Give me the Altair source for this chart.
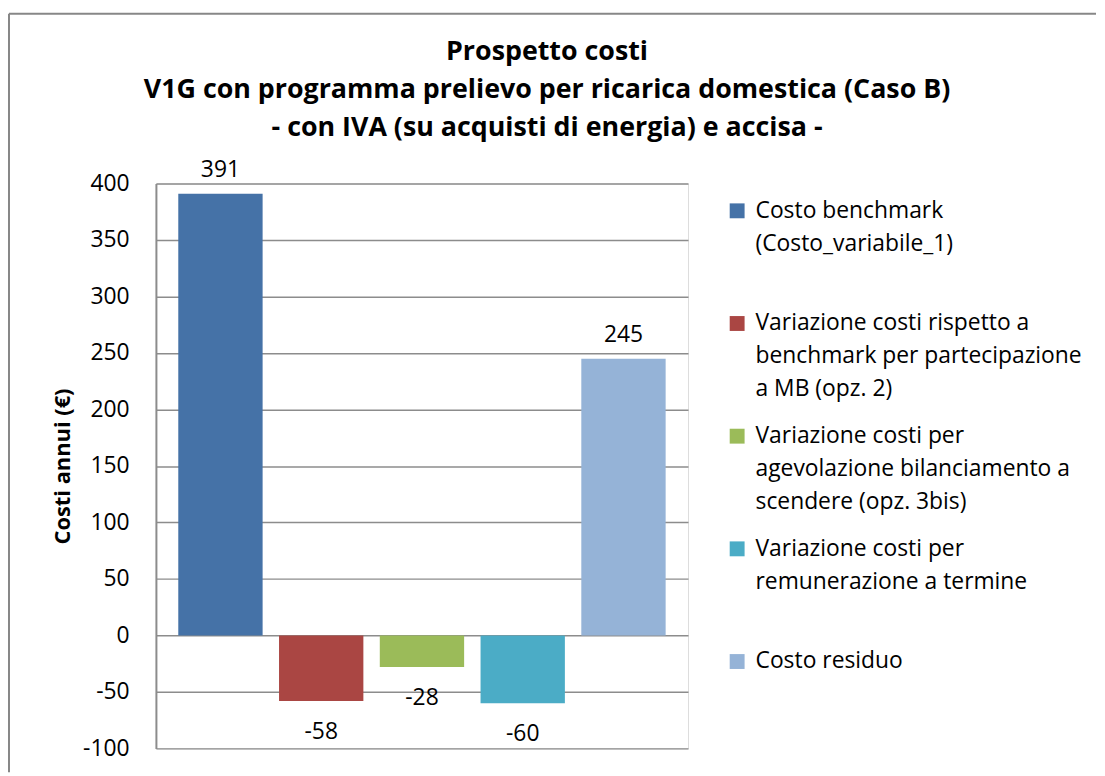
import altair as alt
import pandas as pd

# ---- data ----
series = [
    "Costo benchmark|(Costo_variabile_1)",
    "Variazione costi rispetto a|benchmark per partecipazione|a MB (opz. 2)",
    "Variazione costi per|agevolazione bilanciamento a|scendere (opz. 3bis)",
    "Variazione costi per|remunerazione a termine",
    "Costo residuo",
]
values = [391, -58, -28, -60, 245]
colors = ["#4572A7", "#AA4643", "#9BBB59", "#4BACC6", "#95B3D7"]
y_ticks = [-100, -50, 0, 50, 100, 150, 200, 250, 300, 350, 400]
title_lines = [
    "Prospetto costi",
    "V1G con programma prelievo per ricarica domestica (Caso B)",
    "- con IVA (su acquisti di energia) e accisa -",
]
y_title = "Costi annui (€)"

FONT = "Open Sans"
GRID = "#8c8c8c"
LBL = 23

df = pd.DataFrame({"serie": series, "valore": values})

x_enc = alt.X(
    "serie:N",
    sort=series,
    axis=None,
    scale=alt.Scale(paddingInner=0.163, paddingOuter=0.222),
)
y_scale = alt.Scale(domain=[-100, 400], nice=False)
y_axis = alt.Axis(
    values=y_ticks,
    labelExpr="toString(datum.value)",
    title=y_title,
    titleFont=FONT,
    titleFontSize=22,
    titleFontWeight="bold",
    titleColor="black",
    titlePadding=8,
    labelFont=FONT,
    labelFontSize=LBL,
    labelColor="black",
    labelPadding=27,
    ticks=False,
    tickSize=0,
    grid=True,
    gridColor=GRID,
    gridWidth=1.5,
    domainColor=GRID,
    domainWidth=2,
)

base = alt.Chart(df).transform_calculate(lbl="toString(datum.valore)")

bars = base.mark_bar().encode(
    x=x_enc,
    y=alt.Y("valore:Q", scale=y_scale, axis=y_axis),
    color=alt.Color(
        "serie:N",
        sort=series,
        scale=alt.Scale(domain=series, range=colors),
        legend=alt.Legend(
            title=None,
            orient="none",
            legendX=574,
            legendY=16,
            labelExpr="split(datum.label, '|')",
            labelFont=FONT,
            labelFontSize=LBL,
            labelColor="black",
            labelLimit=500,
            labelOffset=7,
            labelBaseline="middle",
            symbolType="square",
            symbolSize=225,
            symbolStrokeWidth=0,
            symbolOpacity=1,
            rowPadding=23.5,
            gridAlign="all",
            padding=0,
        ),
    ),
)

pos_labels = base.transform_filter("datum.valore >= 0").mark_text(
    dy=-24, font=FONT, fontSize=LBL, color="black", baseline="middle"
).encode(x=x_enc, y=alt.Y("valore:Q", scale=y_scale), text="lbl:N")

neg_labels = base.transform_filter("datum.valore < 0").mark_text(
    dy=31, font=FONT, fontSize=LBL, color="black", baseline="middle"
).encode(x=x_enc, y=alt.Y("valore:Q", scale=y_scale), text="lbl:N")

frame_df = pd.DataFrame({"k": [0]})
frame_top = alt.Chart(frame_df).mark_rule(color="#878787", strokeWidth=2).encode(
    x=alt.value(-148), x2=alt.value(947), y=alt.value(-171)
)
frame_left = alt.Chart(frame_df).mark_rule(color="#878787", strokeWidth=2).encode(
    x=alt.value(-148), y=alt.value(-171), y2=alt.value(593)
)

chart = (
    alt.layer(frame_top, frame_left, bars, pos_labels, neg_labels)
    .properties(
        width=536,
        height=569,
        padding={"left": 0, "top": 2, "right": 0, "bottom": 0},
        title=alt.TitleParams(
            text=title_lines,
            font=FONT,
            fontSize=27,
            fontWeight="bold",
            color="black",
            anchor="middle",
            dx=126,
            lineHeight=38,
            offset=-130,
        ),
    )
    .configure_view(stroke=None)
    .configure(style={"guide-label": {"lineHeight": 33}})
)

chart.save("out.html", embed_options={"renderer": "svg", "actions": False})
